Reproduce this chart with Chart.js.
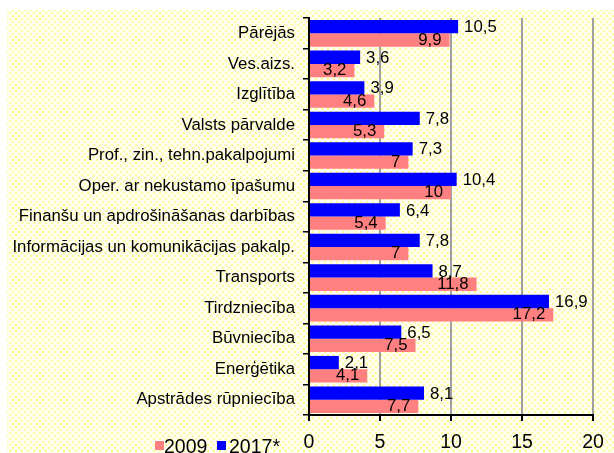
<!DOCTYPE html>
<html>
<head>
<meta charset="utf-8">
<script src="https://cdn.jsdelivr.net/npm/chart.js@4"></script>
<style>
  body { margin: 0; background: #fff; }
  #wrap { position: relative; width: 614px; height: 453px; overflow: hidden; font-family: "Liberation Sans", Arial, sans-serif; }
  #bg {
    position: absolute; left: 7px; top: 10px; right: 0; bottom: 0;
    background-color: #fff;
    background-image: radial-gradient(#fdfb9c 1.3px, transparent 1.7px), radial-gradient(#fdfb9c 1.3px, transparent 1.7px);
    background-size: 6px 6px;
    background-position: 0 0, 3px 3px;
  }
  canvas { position: absolute; left: 0; top: 0; }
  .leg { position: absolute; top: 437px; font-size: 19.5px; line-height: 19px; color: #000; }
  .sw { position: absolute; width: 9px; height: 9px; top: 441px; }
</style>
</head>
<body>
<div id="wrap">
  <div id="bg"></div>
  <canvas id="chart" width="614" height="453"></canvas>
  <div class="sw" style="left:155px;background:#ff8080"></div>
  <div class="leg" style="left:164px">2009</div>
  <div class="sw" style="left:217px;background:#0000ff"></div>
  <div class="leg" style="left:229px">2017*</div>
</div>
<script>
var nozares = [
  "Pārējās",
  "Ves.aizs.",
  "Izglītība",
  "Valsts pārvalde",
  "Prof., zin., tehn.pakalpojumi",
  "Oper. ar nekustamo īpašumu",
  "Finanšu un apdrošināšanas darbības",
  "Informācijas un komunikācijas pakalp.",
  "Transports",
  "Tirdzniecība",
  "Būvniecība",
  "Enerģētika",
  "Apstrādes rūpniecība",
];

var vertibas2017 = [10.5, 3.6, 3.9, 7.8, 7.3, 10.4, 6.4, 7.8, 8.7, 16.9, 6.5, 2.1, 8.1];
var vertibas2009 = [9.9, 3.2, 4.6, 5.3, 7, 10, 5.4, 7, 11.8, 17.2, 7.5, 4.1, 7.7];

var xTicks = [0, 5, 10, 15, 20];

function fmt(v) {
  return String(v).replace(".", ",");
}

// vērtību uzraksti: 2017 ārpus stabiņa, 2009 stabiņa iekšpusē
var labelsPlugin = {
  id: "vertibuUzraksti",
  afterDatasetsDraw: function (chart) {
    var ctx = chart.ctx;
    ctx.save();
    ctx.font = "16.8px 'Liberation Sans', Arial, sans-serif";
    ctx.fillStyle = "#000";
    ctx.textBaseline = "middle";
    chart.data.datasets.forEach(function (ds, di) {
      var meta = chart.getDatasetMeta(di);
      meta.data.forEach(function (bar, i) {
        var txt = fmt(ds.data[i]);
        if (di === 0) {
          ctx.textAlign = "left";
          ctx.fillText(txt, bar.x + 6, bar.y + 1);
        } else {
          ctx.textAlign = "right";
          ctx.fillText(txt, bar.x - 8, bar.y);
        }
      });
    });
    ctx.restore();
  },
};

var ctx = document.getElementById("chart").getContext("2d");
new Chart(ctx, {
  type: "bar",
  data: {
    labels: nozares,
    datasets: [
      {
        label: "2017*",
        data: vertibas2017,
        backgroundColor: "#0000ff",
        borderWidth: 0,
        barPercentage: 1,
        categoryPercentage: 0.87,
      },
      {
        label: "2009",
        data: vertibas2009,
        backgroundColor: "#ff8080",
        borderWidth: 0,
        barPercentage: 1,
        categoryPercentage: 0.87,
      },
    ],
  },
  options: {
    indexAxis: "y",
    responsive: false,
    animation: false,
    layout: { padding: { top: 10, right: 21, bottom: 0, left: 0 } },
    plugins: {
      legend: { display: false },
      tooltip: { enabled: false },
    },
    scales: {
      x: {
        min: 0,
        max: 20,
        afterFit: function (s) { s.height = 38; },
        afterBuildTicks: function (s) {
          s.ticks = xTicks.map(function (v) { return { value: v }; });
        },
        ticks: {
          color: "#000",
          font: { family: "'Liberation Sans', Arial, sans-serif", size: 19.5 },
          padding: 10,
          maxRotation: 0,
        },
        grid: {
          color: function (c) { return c.tick && c.tick.value === 0 ? "#000" : "#a0a0a0"; },
          lineWidth: 2,
          tickLength: 6,
          tickColor: "#000",
        },
        border: { color: "#000", width: 2 },
      },
      y: {
        afterFit: function (s) { s.width = 309; },
        ticks: {
          color: "#000",
          font: { family: "'Liberation Sans', Arial, sans-serif", size: 16.8 },
          padding: 8,
        },
        grid: {
          drawOnChartArea: false,
          tickLength: 6,
          color: "#000",
          lineWidth: 1.5,
          offset: true,
        },
        border: { color: "#000", width: 2 },
      },
    },
  },
  plugins: [labelsPlugin],
});
</script>
</body>
</html>
